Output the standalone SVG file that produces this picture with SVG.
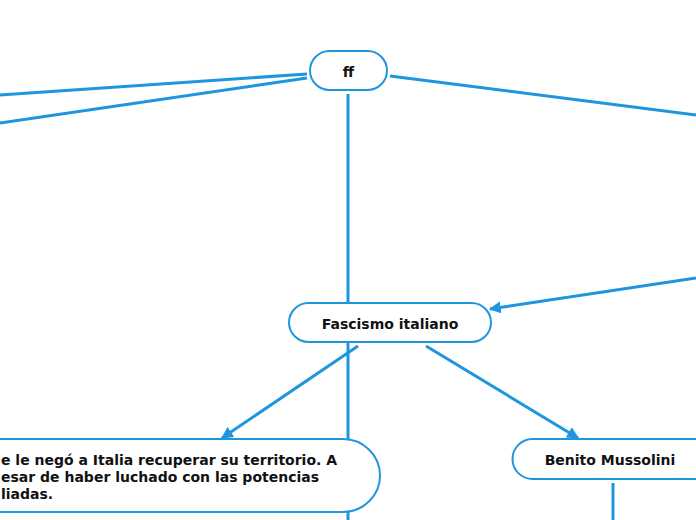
<svg xmlns="http://www.w3.org/2000/svg" width="696" height="520" viewBox="0 0 696 520">
<style>
.c{fill:none;stroke:#1f95de;stroke-width:3}
.n{fill:#fff;stroke:#1f95de;stroke-width:2}
.t{font-family:"DejaVu Sans",Verdana,sans-serif;font-weight:bold;font-size:14px;fill:#111}
</style>
<defs>
<marker id="a" viewBox="0 0 10 10" refX="9" refY="5" markerWidth="4" markerHeight="4" orient="auto" markerUnits="strokeWidth">
<path d="M0,0 L10,5 L0,10 z" fill="#1f95de"/>
</marker>
</defs>
<rect width="696" height="520" fill="#fff"/>
<g id="connectors">
<line class="c" x1="307" y1="74" x2="0" y2="95"/>
<line class="c" x1="307" y1="78" x2="0" y2="123"/>
<line class="c" x1="390" y1="76" x2="696" y2="115"/>
<line class="c" x1="348" y1="94" x2="348" y2="303"/>
<line class="c" x1="348" y1="342" x2="348" y2="520"/>
<line class="c" x1="696" y1="278" x2="490" y2="309" marker-end="url(#a)"/>
<line class="c" x1="358" y1="346" x2="222" y2="438" marker-end="url(#a)"/>
<line class="c" x1="426" y1="346" x2="578" y2="438" marker-end="url(#a)"/>
<line class="c" x1="613" y1="483" x2="613" y2="520"/>
</g>
<g id="node-ff">
<rect class="n" x="310" y="51" width="77" height="39" rx="19.5"/>
<text class="t" x="348.5" y="77" text-anchor="middle">ff</text>
</g>
<g id="node-fascismo">
<rect class="n" x="289" y="303" width="202" height="39" rx="19.5"/>
<text class="t" x="390" y="329" text-anchor="middle">Fascismo italiano</text>
</g>
<g id="node-territorio">
<path class="n" d="M-10,439 H343 A37,36.5 0 0 1 343,512 H-10 Z"/>
<text class="t" x="1" y="465">e le negó a Italia recuperar su territorio. A</text>
<text class="t" x="1" y="482">esar de haber luchado con las potencias</text>
<text class="t" x="1" y="498.5">liadas.</text>
</g>
<g id="node-mussolini">
<path class="n" d="M710,439 H532.5 A19.5,19.5 0 0 0 532.5,479 H710"/>
<text class="t" x="610" y="465" text-anchor="middle">Benito Mussolini</text>
</g>
</svg>
